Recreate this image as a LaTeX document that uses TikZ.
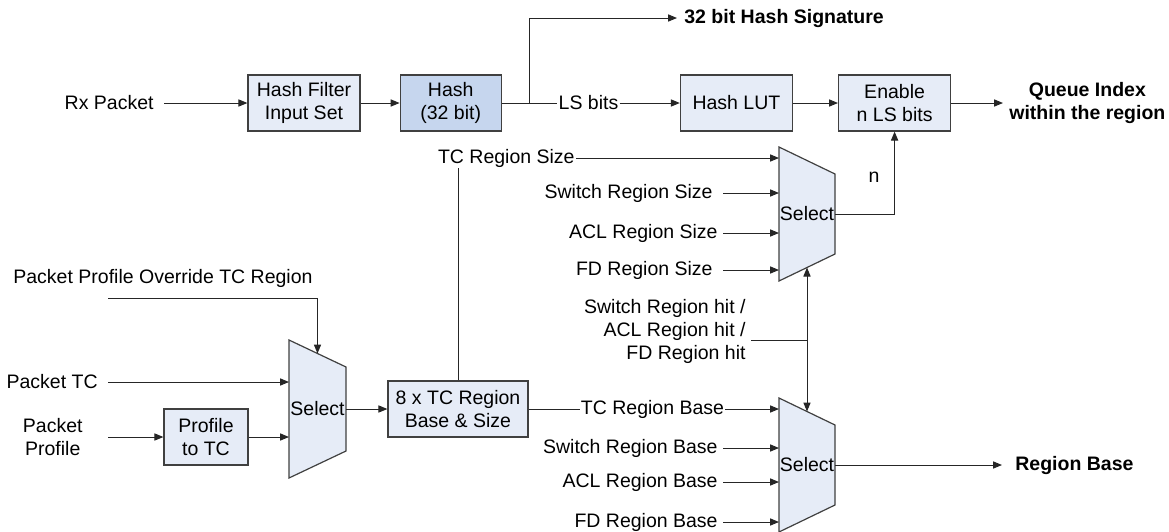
\documentclass[tikz,border=0pt]{standalone}
\usepackage{fontspec}
\setmainfont{Liberation Sans}
\usepackage{xcolor}
\usepackage{tikz}
\usetikzlibrary{arrows.meta, positioning, calc}
\definecolor{boxfill}{HTML}{E6ECF7}
\definecolor{hashfill}{HTML}{C6D6EE}
\definecolor{edge}{HTML}{404040}

\begin{document}
\begin{tikzpicture}[x=0.5pt, y=-0.5pt,
    font=\fontsize{9.75pt}{11.5pt}\selectfont,
    blk/.style={rectangle, draw=edge, fill=boxfill, line width=0.6pt, align=center,
      minimum width=56pt, minimum height=28pt, inner sep=1pt},
    mux/.style={draw=edge, fill=boxfill, line width=0.6pt},
    lbl/.style={inner xsep=2.5pt, inner ysep=1pt, align=right},
    lblw/.style={lbl, inner xsep=5pt},
    tight/.style={inner sep=0.5pt},
    outl/.style={font=\fontsize{9.75pt}{11.5pt}\selectfont\bfseries, align=center},
    link/.style={line width=0.5pt, draw=black!85},
    arr/.style={link, -{Triangle[length=4.5pt, width=3.6pt]}}
  ]
  \useasboundingbox (0,0) rectangle (1169,531);

  % hash path
  \node[blk] (hf) at (304,103) {Hash Filter\\Input Set};
  \node[blk, fill=hashfill, minimum width=50.5pt, right=19.5pt of hf] (hash) {Hash\\(32 bit)};
  \node[blk, right=89pt of hash] (lut) {Hash LUT};
  \node[blk, right=22.5pt of lut] (en) {Enable\\n LS bits};
  \node[lblw, anchor=east] (rx) at (164,103) {Rx Packet};
  \node[tight] (ls) at (588.5,103) {LS bits};
  \node[outl, anchor=west, inner sep=3.5pt] (sig) at (677,18) {32 bit Hash Signature};
  \node[outl, anchor=west, inner sep=3pt] (qi) at (1003,103) {Queue Index\\within the region};
  \coordinate (br) at ($(hash.east)+(28,0)$);

  \draw[arr] (rx.east) -- (hf.west);
  \draw[arr] (hf.east) -- (hash.west);
  \draw[link] (hash.east) -- (ls.west);
  \draw[arr] (br) |- (sig.west);
  \draw[arr] (ls.east) -- (lut.west);
  \draw[arr] (lut.east) -- (en.west);
  \draw[arr] (en.east) -- (qi.west);

  % muxes
  \coordinate (m1tl) at (779,147); \coordinate (m1tr) at (835,174);
  \coordinate (m1br) at (835,254); \coordinate (m1bl) at (779,281);
  \coordinate (m2tl) at (289,340); \coordinate (m2tr) at (346,367);
  \coordinate (m2br) at (346,451); \coordinate (m2bl) at (289,478);
  \coordinate (m3tl) at (779,398); \coordinate (m3tr) at (835,425);
  \coordinate (m3br) at (835,505); \coordinate (m3bl) at (779,532);
  \draw[mux] (m1tl) -- (m1tr) -- (m1br) -- (m1bl) -- cycle;
  \draw[mux] (m2tl) -- (m2tr) -- (m2br) -- (m2bl) -- cycle;
  \draw[mux] (m3tl) -- (m3tr) -- (m3br) -- (m3bl) -- cycle;
  \node[inner sep=0pt] (sel1) at (807,214) {Select};
  \node[inner sep=0pt] (sel2) at (317.5,409) {Select};
  \node[inner sep=0pt] (sel3) at (807,465) {Select};

  % TC selection
  \node[anchor=west, inner sep=0pt] (ovr) at (13,278) {Packet Profile Override TC Region};
  \coordinate (ovin) at (108,298);
  \node[lblw, anchor=east] (ptc) at (108,382) {Packet TC};
  \node[align=center, anchor=east, inner xsep=12.5pt] (pprof) at (108,437) {Packet\\Profile};
  \node[blk, minimum width=42pt] (p2tc) at (206,437) {Profile\\to TC};
  \node[blk, minimum width=70pt] (tcr) at (458,409) {8 x TC Region\\Base \& Size};

  \draw[arr] (ovin) -| ($(m2tl)!.5!(m2tr)$);
  \draw[arr] (ptc.east) -- (ptc.east -| m2tl);
  \draw[arr] (pprof.east) -- (p2tc.west);
  \draw[arr] (p2tc.east) -- (p2tc.east -| m2tl);
  \draw[arr] (sel2.east -| m2tr) -- (tcr.west);

  % region size
  \node[tight, anchor=east] (tcs) at (576,158) {TC Region Size};
  \node[lblw, anchor=east] (sws) at (723,193) {Switch Region Size};
  \node[lbl, anchor=east] (acs) at (723,233) {ACL Region Size};
  \node[lblw, anchor=east] (fds) at (723,270) {FD Region Size};
  \draw[link] (tcr.north) -- (tcr.north |- tcs.south);
  \foreach \n in {tcs,sws,acs,fds}
    \draw[arr] (\n.east) -- (\n.east -| m1tl);
  \draw[arr] (sel1.east -| m1tr) -| node[pos=0.72, left=4pt] (nl) {n} (en.south);

  % region base
  \node[tight] (tcb) at (652.5,409) {TC Region Base};
  \node[lbl, anchor=east] (swb) at (723,448) {Switch Region Base};
  \node[lbl, anchor=east] (acb) at (723,482) {ACL Region Base};
  \node[lbl, anchor=east] (fdb) at (723,522) {FD Region Base};
  \node[outl, anchor=west, inner xsep=6.5pt] (rb) at (1002,465) {Region Base};
  \draw[link] (tcr.east) -- (tcb.west);
  \foreach \n in {tcb,swb,acb,fdb}
    \draw[arr] (\n.east) -- (\n.east -| m3tl);
  \draw[arr] (sel3.east -| m3tr) -- (rb.west);

  % region hit
  \node[lbl, anchor=east] (hit) at (751,331) {Switch Region hit /\\ACL Region hit /\\FD Region hit};
  \coordinate (hitj) at (807,340);
  \draw[link] (hitj -| hit.east) -- (hitj);
  \draw[arr] (hitj) -- ($(m1bl)!.5!(m1br)$);
  \draw[arr] (hitj) -- ($(m3tl)!.5!(m3tr)$);
\end{tikzpicture}
\end{document}
